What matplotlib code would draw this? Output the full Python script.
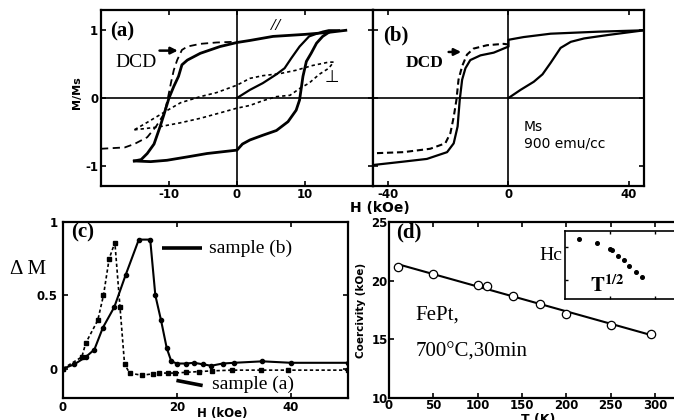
import numpy as np
import matplotlib
matplotlib.use("Agg")
import matplotlib.pyplot as plt

plt.rcParams["font.family"] = "DejaVu Sans"
plt.rcParams["axes.unicode_minus"] = False
plt.rcParams["mathtext.fontset"] = "stix"

# panel (a): hysteresis loops, H in kOe, M/Ms
a_init_H = [0, 1.9, 3.8, 5.8, 7.0, 8.0, 9.2, 10.6, 12.6, 13.5, 15.0]
a_init_M = [0, 0.12, 0.22, 0.35, 0.44, 0.59, 0.76, 0.91, 0.98, 1.0, 1.0]
a_up_H = [16.0, 13.5, 10.0, 5.3, 1.9, 0, -2.5, -5.4, -7.3, -8.1, -8.6, -9.3,
          -10.0, -10.7, -11.3, -12.2, -13.2, -14.1, -15.1]
a_up_M = [1.0, 0.97, 0.94, 0.91, 0.85, 0.82, 0.76, 0.66, 0.56, 0.49, 0.32, 0.17,
          0.0, -0.23, -0.42, -0.68, -0.82, -0.91, -0.93]
a_lo_H = [-15.1, -12.7, -10.3, -7.3, -4.4, 0, 0.8, 1.9, 3.8, 5.8, 7.5, 8.7, 9.2,
          9.7, 10.2, 10.9, 11.7, 12.6, 13.5]
a_lo_M = [-0.93, -0.94, -0.92, -0.87, -0.82, -0.77, -0.68, -0.62, -0.55, -0.48,
          -0.35, -0.18, -0.03, 0.32, 0.54, 0.66, 0.81, 0.91, 0.97]
a_dcd_H = [-20, -16.5, -15.1, -13.2, -11.9, -10.7, -10.2, -9.7, -9.3, -8.8,
           -8.1, -7.3, -5.4, -3.0, -0.5, 0]
a_dcd_M = [-0.75, -0.73, -0.68, -0.58, -0.42, -0.23, -0.02, 0.23, 0.41, 0.56,
           0.71, 0.76, 0.80, 0.82, 0.83, 0.83]
perp_up_H = [14.2, 13.5, 11.1, 8.7, 6.3, 3.8, 1.9, 0, -3.0, -5.4, -8.3,
             -10.2, -11.7, -13.2, -15.1]
perp_up_M = [0.53, 0.53, 0.48, 0.41, 0.36, 0.33, 0.29, 0.19, 0.08, 0.02, -0.07,
             -0.18, -0.27, -0.36, -0.47]
perp_lo_H = [-15.1, -11.7, -8.5, -5.4, -2.5, 0, 1.9, 3.8, 5.8, 7.8, 9.2, 10.6,
             12.1, 13.5, 14.2]
perp_lo_M = [-0.47, -0.43, -0.37, -0.30, -0.22, -0.15, -0.11, -0.04, 0.02, 0.04,
             0.14, 0.22, 0.35, 0.44, 0.53]

# panel (b)
b_H = [-45, -34.9, -27.1, -20.4, -18.2, -16.9, -16.2, -15.4, -14.3, -12.7,
       -9.3, -4.9, 0, 0, 5, 14, 30, 45]
b_M = [-0.99, -0.94, -0.90, -0.80, -0.67, -0.42, -0.03, 0.27, 0.44, 0.56,
       0.63, 0.67, 0.76, 0.86, 0.90, 0.95, 0.98, 1.0]
b_init_H = [0, 4, 8.4, 11.3, 14, 17.3, 20.7, 25.1, 32.9, 45]
b_init_M = [0, 0.12, 0.24, 0.35, 0.52, 0.74, 0.83, 0.88, 0.93, 1.0]
b_dcd_H = [-47, -34.9, -26, -21, -19.3, -18.2, -17.3, -16.6, -15.4, -13.8,
           -11.6, -7.1, -1.6, 0]
b_dcd_M = [-0.82, -0.80, -0.75, -0.67, -0.52, -0.28, -0.03, 0.27, 0.47, 0.64,
           0.73, 0.78, 0.80, 0.79]

# panel (c): delta M
c_b_H = [0, 2, 4, 5.5, 7, 9, 11, 13.3, 15.3, 16.2, 17.2, 18.2, 19, 20, 21.5,
         23, 24.5, 26, 28, 30, 35, 40, 50]
c_b_dM = [0, 0.03, 0.08, 0.13, 0.28, 0.42, 0.64, 0.88, 0.88, 0.50, 0.33, 0.14,
          0.05, 0.035, 0.035, 0.04, 0.03, 0.02, 0.035, 0.04, 0.05, 0.04, 0.04]
c_a_H = [0, 3.3, 4.0, 6.1, 7.1, 8.1, 9.1, 10.0, 10.8, 11.7, 13.8, 15.8, 16.8,
         18.5, 19.7, 21.5, 23.8, 26.1, 29.6, 34.8, 39.5, 50]
c_a_dM = [0, 0.08, 0.175, 0.33, 0.50, 0.75, 0.86, 0.42, 0.03, -0.03, -0.045,
          -0.035, -0.03, -0.03, -0.03, -0.025, -0.02, -0.015, -0.01, -0.01,
          -0.01, -0.01]

# panel (d): coercivity vs temperature
T = np.array([10, 50, 100, 110, 140, 170, 200, 250, 295])
Hc = np.array([21.2, 20.55, 19.65, 19.55, 18.7, 18.0, 17.2, 16.2, 15.45])

W, H = 674, 420


def box(l, t, r, b):
    return [l / W, 1 - b / H, (r - l) / W, (b - t) / H]


def ftext(x, y, s, **kw):
    fig.text(x / W, 1 - y / H, s, **kw)


def style(ax, lw=1.6):
    for sp in ax.spines.values():
        sp.set_linewidth(lw)
    ax.tick_params(direction="in", top=True, right=True, length=3.5, width=1.2,
                   labelsize=8.5, pad=2)
    for lab in ax.get_xticklabels() + ax.get_yticklabels():
        lab.set_fontweight("bold")


serif = "Liberation Serif"
fig = plt.figure(figsize=(6.74, 4.2), dpi=100)

# (a)
ax = fig.add_axes(box(101, 10, 373, 186))
ax.axhline(0, color="k", lw=1.2)
ax.axvline(0, color="k", lw=1.2)
ax.plot(a_up_H, a_up_M, color="k", lw=2.0)
ax.plot(a_lo_H, a_lo_M, color="k", lw=2.0)
ax.plot(a_init_H, a_init_M, color="k", lw=1.6)
ax.plot(a_dcd_H, a_dcd_M, color="k", lw=1.3, dashes=(4, 2.5))
ax.plot(perp_up_H, perp_up_M, color="k", lw=1.2, dashes=(2, 1.8))
ax.plot(perp_lo_H, perp_lo_M, color="k", lw=1.2, dashes=(2, 1.8))
ax.set_xlim(-20, 20)
ax.set_ylim(-1.3, 1.3)
ax.set_xticks([-10, 0, 10])
ax.set_yticks([-1, 0, 1])
style(ax)
ax.tick_params(axis="x", pad=1.5)
ax.text(-18.6, 0.98, "(a)", family=serif, weight="bold", fontsize=15, va="center")
ax.text(-17.9, 0.52, "DCD", family=serif, fontsize=14, va="center")
ax.annotate("", xy=(-8.3, 0.70), xytext=(-11.8, 0.70),
            arrowprops=dict(arrowstyle="-|>", color="k", lw=1.8, mutation_scale=10))
ax.text(5.7, 1.07, "//", family=serif, style="italic", weight="bold", fontsize=12,
        ha="center", va="center")
ax.text(14.0, 0.31, "⊥", fontsize=12, ha="center", va="center")

# (b)
ax = fig.add_axes(box(373, 10, 644, 186))
ax.axhline(0, color="k", lw=1.2)
ax.axvline(0, color="k", lw=1.2)
ax.plot(b_H, b_M, color="k", lw=1.6)
ax.plot(b_init_H, b_init_M, color="k", lw=1.6)
ax.plot(b_dcd_H, b_dcd_M, color="k", lw=1.5, dashes=(3, 1.8))
ax.set_xlim(-45, 45)
ax.set_ylim(-1.3, 1.3)
ax.set_xticks([-40, 0, 40])
ax.set_yticks([-1, 0, 1])
style(ax)
ax.tick_params(axis="x", pad=1.5)
ax.set_yticklabels([])
ax.text(-41.8, 0.93, "(b)", family=serif, weight="bold", fontsize=15, va="center")
ax.text(-34.3, 0.52, "DCD", family=serif, weight="bold", fontsize=12.5, va="center")
ax.annotate("", xy=(-14.8, 0.68), xytext=(-20.8, 0.68),
            arrowprops=dict(arrowstyle="-|>", color="k", lw=1.8, mutation_scale=10))
ax.text(5.0, -0.55, "Ms\n900 emu/cc", fontsize=10, va="center", linespacing=1.3)

ftext(77, 93, "M/Ms", rotation=90, fontsize=8, weight="bold", ha="center", va="center")
ftext(380, 208, "H (kOe)", fontsize=10, weight="bold", ha="center", va="center")

# (c)
ax = fig.add_axes(box(63, 222, 348, 398))
ax.plot(c_b_H, c_b_dM, color="k", lw=1.5, marker="o", ms=3)
ax.plot(c_a_H, c_a_dM, color="k", lw=1.2, dashes=(2, 1.5), marker="s", ms=3)
ax.set_xlim(0, 50)
ax.set_ylim(-0.2, 1.0)
ax.set_xticks([0, 20, 40])
ax.set_yticks([0, 0.5, 1])
ax.set_yticklabels(["0", "0.5", "1"])
style(ax)
ax.tick_params(axis="y", pad=4)
ax.text(1.5, 0.93, "(c)", family=serif, weight="bold", fontsize=15, va="center")
ax.plot([17.3, 24.3], [0.82, 0.82], color="k", lw=2.6, solid_capstyle="butt")
ax.text(25.7, 0.82, "sample (b)", family=serif, fontsize=14, va="center")
ax.plot([19.9, 24.5], [-0.08, -0.115], color="k", lw=2.6, solid_capstyle="butt")
ax.text(26.2, -0.105, "sample (a)", family=serif, fontsize=14, va="center")
ftext(10, 270, "Δ M", family=serif, fontsize=15, va="center")
ftext(222, 413, "H (kOe)", fontsize=8.5, weight="bold", ha="center", va="center")

# (d)
ax = fig.add_axes(box(389, 222, 680, 398))
coef = np.polyfit(T, Hc, 1)
ax.plot([T[0], T[-1]], np.polyval(coef, [T[0], T[-1]]), color="k", lw=1.5)
ax.plot(T, Hc, "o", mfc="white", mec="k", ms=6, mew=0.9)
ax.set_xlim(0, 328)
ax.set_ylim(10, 25)
ax.set_xticks(np.arange(0, 301, 50))
ax.set_yticks([10, 15, 20, 25])
style(ax)
ax.tick_params(axis="y", pad=1)
ax.tick_params(axis="x", pad=1)
ax.text(0.024, 0.94, "(d)", transform=ax.transAxes, family=serif, weight="bold",
        fontsize=15, va="center")
ax.text(0.09, 0.47, "FePt,", transform=ax.transAxes, family=serif, fontsize=15,
        va="center")
ax.text(0.09, 0.26, "700°C,30min", transform=ax.transAxes, family=serif,
        fontsize=15, va="center")
ax.text(0.595, 0.81, "Hc", transform=ax.transAxes, family=serif, fontsize=14,
        ha="right", va="center")
ftext(361, 310, "Coercivity (kOe)", rotation=90, fontsize=7.5, weight="bold",
      ha="center", va="center")
ftext(538, 413, "T (K)", fontsize=9, weight="bold", ha="center", va="top")

# inset: Hc vs T^1/2
ins = fig.add_axes(box(565, 231, 680, 299))
ins.plot(np.sqrt(T), Hc, "o", color="k", ms=2.6)
ins.set_xlim(0, 25.6)
ins.set_ylim(12.2, 22.4)
ins.set_xticks([10, 20])
ins.set_yticks([15, 20])
ins.tick_params(direction="in", top=True, right=True, length=2.5, width=1,
                labelbottom=False, labelleft=False)
for sp in ins.spines.values():
    sp.set_linewidth(1.2)
ins.text(0.22, 0.04, r"$\mathbf{T}^{\mathbf{1/2}}$", transform=ins.transAxes,
         fontsize=15, va="bottom")

fig.savefig("out.png", dpi=100)
